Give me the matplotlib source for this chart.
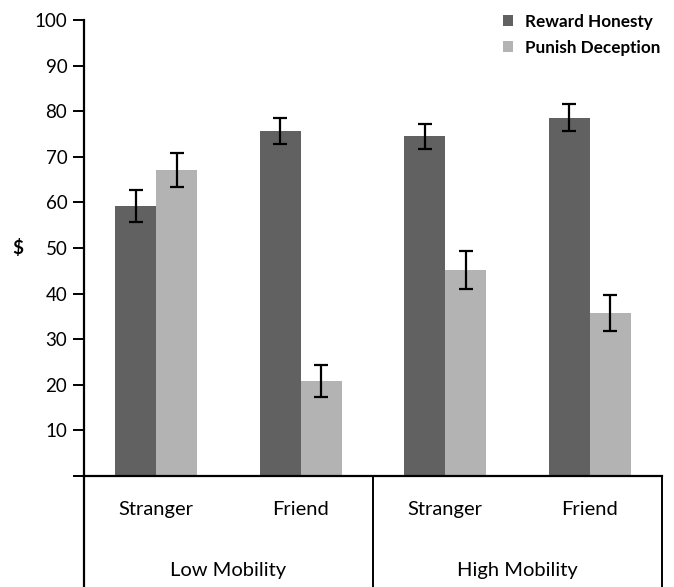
"""Grouped bar chart: reward honesty vs punish deception by mobility and relationship."""

import matplotlib

matplotlib.use("Agg")

import matplotlib.pyplot as plt
import numpy as np
from matplotlib.lines import Line2D
from matplotlib.transforms import blended_transform_factory

categories = ["Stranger", "Friend", "Stranger", "Friend"]
groups = ["Low Mobility", "High Mobility"]
series_names = ["Reward Honesty", "Punish Deception"]
reward = [59.2, 75.6, 74.5, 78.6]
reward_err = [3.5, 2.8, 2.7, 3.0]
punish = [67.1, 20.8, 45.2, 35.7]
punish_err = [3.7, 3.5, 4.1, 4.0]
y_ticks = [0, 10, 20, 30, 40, 50, 60, 70, 80, 90, 100]

plt.rcParams["font.family"] = ["Lato", "DejaVu Sans"]

fig = plt.figure(figsize=(6.74, 5.87), dpi=100)
ax = fig.add_axes([0.1246, 0.189, 0.8576, 0.777])

x = np.arange(len(categories))
width = 0.284
dark, light = "#616161", "#b3b3b3"
err_kw = {"elinewidth": 1.6, "capthick": 1.6, "ecolor": "black"}
ax.bar(x - width / 2, reward, width, yerr=reward_err, capsize=5, color=dark,
       label=series_names[0], error_kw=err_kw)
ax.bar(x + width / 2, punish, width, yerr=punish_err, capsize=5, color=light,
       label=series_names[1], error_kw=err_kw)

ax.set_xlim(-0.5, len(categories) - 0.5)
ax.set_ylim(0, 100)
ax.set_yticks(y_ticks, [""] + [str(t) for t in y_ticks[1:]])
ax.tick_params(axis="y", direction="out", length=8, width=1.4, labelsize=13.5, pad=4)
ax.set_xticks(x, categories)
ax.tick_params(axis="x", length=0, labelsize=14.5, pad=18)

for side in ("top", "right"):
    ax.spines[side].set_visible(False)
ax.spines["left"].set_linewidth(1.6)
ax.spines["bottom"].set_linewidth(1.6)

# bottom box separating the two mobility groups
lower = -0.245
for xa in (0.0, 0.5, 1.0):
    ax.add_line(Line2D([xa, xa], [0, lower], transform=ax.transAxes,
                       color="black", linewidth=1.4 if xa else 1.6, clip_on=False))
ax.add_line(Line2D([-0.016, 0], [0, 0], transform=ax.transAxes,
                   color="black", linewidth=1.4, clip_on=False))

trans = blended_transform_factory(ax.transData, ax.transAxes)
for i, name in enumerate(groups):
    ax.text(2 * i + 0.5, -0.207, name, transform=trans, ha="center", va="center", fontsize=14.5)

ax.set_ylabel("$", rotation=0, fontsize=13.5, fontweight="bold", labelpad=12, va="center")

fig.legend(loc="upper right", bbox_to_anchor=(1.003, 1.003), frameon=False,
           handlelength=0.6, handleheight=0.6, handletextpad=0.7, labelspacing=0.6,
           prop={"weight": "bold", "size": 12.3})

fig.savefig("out.png", dpi=100)
